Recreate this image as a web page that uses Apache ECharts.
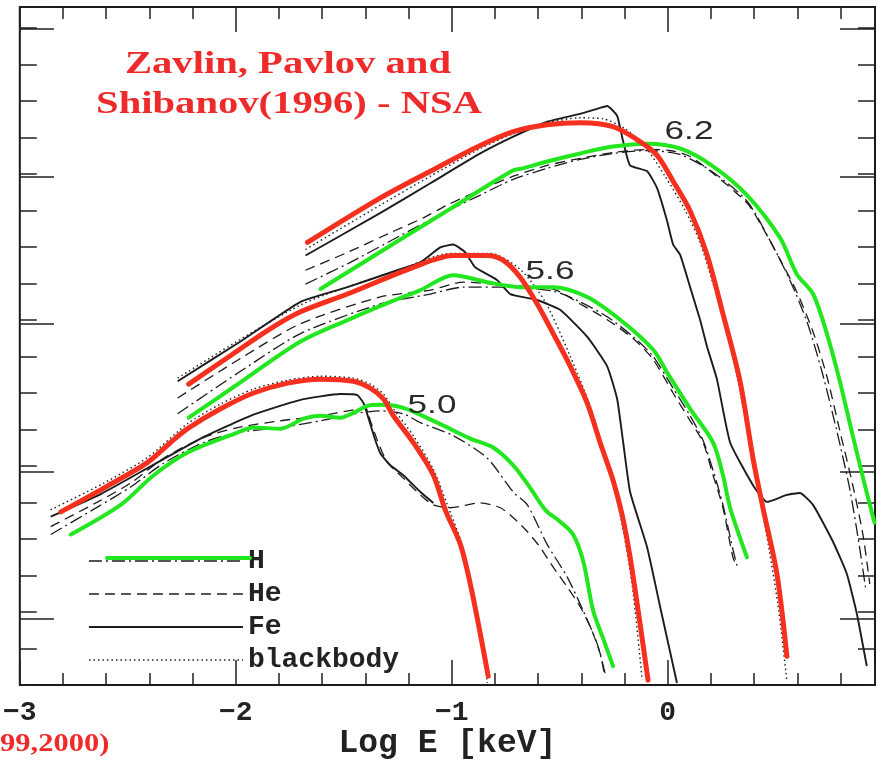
<!DOCTYPE html>
<html><head><meta charset="utf-8">
<script src="https://cdn.jsdelivr.net/npm/echarts@6/dist/echarts.min.js"></script>
<style>html,body{margin:0;padding:0;background:#fff}#c{width:878px;height:765px}</style>
</head><body><div id="c"></div>
<script>
// ---------- labels ----------
const xTickLabels = [-3, -2, -1, 0];
const legendNames = ['H', 'He', 'Fe', 'blackbody'];
const tempLabels = ['6.2', '5.6', '5.0'];

// ---------- log T = 6.2 ----------
const red62X = [-1.668,-1.330,-1.099,-0.868,-0.715,-0.558,-0.405,-0.253,-0.128,-0.049,0.025,0.104,0.182,0.256,0.335,0.395,0.441,0.506,0.552];
const red62Y = [2.531,2.836,3.019,3.195,3.290,3.337,3.351,3.324,3.222,3.127,2.951,2.747,2.449,2.042,1.581,1.053,0.714,0.259,-0.303];
const green62X = [-1.608,-1.238,-1.007,-0.715,-0.669,-0.558,-0.405,-0.253,-0.095,0.057,0.210,0.367,0.520,0.598,0.673,0.737,0.797,0.857,0.913,0.958];
const green62Y = [2.212,2.551,2.761,3.025,3.039,3.086,3.141,3.188,3.208,3.175,3.053,2.856,2.564,2.314,2.178,1.907,1.581,1.208,0.869,0.612];
const he62X = [-1.677,-1.483,-1.284,-1.131,-1.020,-0.868,-0.715,-0.558,-0.405,-0.253,-0.095,0.011,0.104,0.210,0.367,0.427,0.520,0.598,0.673,0.737,0.797,0.857,0.904,0.936];
const he62Y = [2.341,2.463,2.598,2.700,2.788,2.890,2.985,3.059,3.107,3.147,3.168,3.161,3.120,3.005,2.802,2.666,2.415,2.192,1.920,1.615,1.242,0.869,0.531,0.192];
const h62X = [-1.677,-1.469,-1.238,-1.020,-0.868,-0.715,-0.558,-0.405,-0.253,-0.095,0.057,0.210,0.367,0.474,0.566,0.645,0.714,0.783,0.844,0.890,0.917];
const h62Y = [2.246,2.395,2.578,2.747,2.856,2.964,3.039,3.100,3.141,3.161,3.134,3.012,2.815,2.544,2.273,1.988,1.649,1.242,0.836,0.429,0.158];
const fe62X = [-1.677,-1.330,-1.099,-0.868,-0.715,-0.558,-0.405,-0.313,-0.280,-0.234,-0.206,-0.174,-0.095,-0.049,-0.003,0.025,0.057,0.104,0.150,0.182,0.228,0.289,0.395,0.460,0.552,0.612,0.673,0.765,0.830,0.876,0.922];
const fe62Y = [2.442,2.734,2.937,3.141,3.256,3.358,3.412,3.453,3.466,3.398,3.222,3.059,3.019,2.903,2.680,2.517,2.449,2.225,2.002,1.819,1.595,1.161,0.869,0.754,0.802,0.815,0.734,0.483,0.259,-0.012,-0.371];
const bb62X = [-1.677,-1.330,-1.099,-0.868,-0.715,-0.558,-0.405,-0.299,-0.197,-0.105,-0.012,0.080,0.150,0.228,0.312,0.381,0.450,0.510,0.552];
const bb62Y = [2.483,2.788,2.985,3.175,3.276,3.351,3.385,3.378,3.310,3.188,2.985,2.754,2.531,2.158,1.683,1.141,0.598,0.056,-0.473];

// ---------- log T = 5.6 ----------
const red56X = [-2.218,-2.010,-1.839,-1.700,-1.483,-1.178,-0.993,-0.835,-0.761,-0.683,-0.604,-0.530,-0.451,-0.373,-0.313,-0.253,-0.211,-0.174,-0.128,-0.091];
const red56Y = [1.561,1.771,1.941,2.056,2.178,2.361,2.442,2.442,2.408,2.293,2.110,1.907,1.683,1.432,1.161,0.903,0.666,0.375,-0.080,-0.466];
const green56X = [-2.218,-2.010,-1.700,-1.469,-1.284,-1.145,-0.993,-0.835,-0.683,-0.530,-0.373,-0.220,-0.068,0.002,0.104,0.210,0.256,0.289,0.367];
const green56Y = [1.331,1.541,1.853,2.008,2.124,2.205,2.307,2.259,2.225,2.225,2.158,2.002,1.798,1.629,1.392,1.161,0.937,0.714,0.375];
const fe56X = [-2.269,-1.978,-1.700,-1.483,-1.252,-1.145,-1.053,-0.993,-0.937,-0.891,-0.789,-0.729,-0.604,-0.498,-0.373,-0.280,-0.234,-0.206,-0.174,-0.095,-0.035,0.043];
const fe56Y = [1.581,1.853,2.124,2.225,2.341,2.395,2.497,2.517,2.463,2.361,2.273,2.178,2.137,2.070,1.886,1.683,1.459,1.161,0.822,0.442,0.036,-0.486];
const he56X = [-2.269,-1.978,-1.700,-1.330,-1.099,-0.946,-0.761,-0.530,-0.405,-0.280,-0.160,-0.068,0.025,0.104,0.164,0.210,0.256,0.302,0.321];
const he56Y = [1.466,1.737,1.975,2.158,2.205,2.259,2.239,2.212,2.110,2.002,1.873,1.731,1.500,1.310,1.161,0.937,0.714,0.375,0.314];
const h56X = [-2.269,-1.978,-1.700,-1.330,-1.099,-0.946,-0.761,-0.530,-0.405,-0.280,-0.160,-0.068,0.025,0.104,0.164,0.210,0.256,0.302,0.325];
const h56Y = [1.358,1.649,1.907,2.110,2.178,2.225,2.225,2.198,2.124,2.022,1.886,1.751,1.534,1.344,1.175,0.971,0.734,0.429,0.293];
const bb56X = [-2.269,-1.700,-1.238,-1.007,-0.821,-0.683,-0.567,-0.451,-0.359,-0.290,-0.220,-0.165,-0.118];
const bb56Y = [1.602,2.103,2.347,2.456,2.456,2.347,2.124,1.751,1.412,1.073,0.666,0.192,-0.466];

// ---------- log T = 5.0 ----------
const red50X = [-2.810,-2.611,-2.408,-2.302,-2.223,-2.070,-1.918,-1.760,-1.608,-1.455,-1.377,-1.316,-1.270,-1.178,-1.085,-1.030,-0.960,-0.914,-0.868,-0.831];
const red50Y = [0.686,0.849,1.025,1.161,1.256,1.392,1.500,1.568,1.595,1.581,1.534,1.459,1.344,1.161,0.937,0.700,0.463,0.192,-0.147,-0.439];
const green50X = [-2.764,-2.533,-2.380,-2.223,-1.992,-1.918,-1.793,-1.686,-1.608,-1.515,-1.455,-1.390,-1.330,-1.224,-1.067,-0.914,-0.808,-0.715,-0.636,-0.567,-0.498,-0.438,-0.391,-0.345,-0.299,-0.253];
const green50Y = [0.531,0.734,0.937,1.093,1.229,1.263,1.256,1.324,1.344,1.331,1.364,1.412,1.419,1.398,1.297,1.188,1.127,1.005,0.849,0.700,0.619,0.531,0.347,0.008,-0.181,-0.371];
const he50X = [-2.857,-2.639,-2.487,-2.334,-2.149,-1.992,-1.793,-1.608,-1.455,-1.400,-1.377,-1.344,-1.298,-1.224,-1.145,-1.085,-1.007,-0.868,-0.775,-0.715,-0.650,-0.590,-0.530,-0.465,-0.405,-0.359,-0.313,-0.290];
const he50Y = [0.585,0.754,0.883,1.053,1.195,1.263,1.310,1.344,1.385,1.398,1.310,1.175,1.025,0.917,0.802,0.734,0.714,0.747,0.714,0.646,0.551,0.442,0.307,0.171,0.036,-0.100,-0.283,-0.453];
const h50X = [-2.857,-2.639,-2.487,-2.334,-2.149,-1.992,-1.793,-1.608,-1.455,-1.330,-1.224,-1.145,-0.993,-0.835,-0.715,-0.650,-0.558,-0.465,-0.391,-0.327,-0.290];
const h50Y = [0.531,0.720,0.856,1.019,1.161,1.229,1.263,1.310,1.358,1.378,1.358,1.297,1.208,1.053,0.822,0.734,0.463,0.239,0.008,-0.215,-0.419];
const fe50X = [-2.857,-2.625,-2.394,-2.163,-1.932,-1.700,-1.515,-1.437,-1.409,-1.386,-1.358,-1.330,-1.284,-1.224,-1.145,-1.085];
const fe50Y = [0.653,0.808,0.998,1.188,1.344,1.453,1.493,1.486,1.432,1.331,1.195,1.086,1.005,0.937,0.822,0.747];
const bb50X = [-2.857,-2.611,-2.408,-2.223,-2.070,-1.918,-1.760,-1.608,-1.455,-1.377,-1.316,-1.270,-1.178,-1.085,-1.020,-0.960,-0.914,-0.868,-0.835];
const bb50Y = [0.700,0.883,1.059,1.290,1.425,1.527,1.588,1.615,1.602,1.561,1.493,1.392,1.208,0.978,0.734,0.497,0.225,-0.114,-0.486];

// ---------- styling ----------
const BLACK = '#1c1c1c';
const GREEN = '#22e61e';
const RED = '#f5301e';
const TITLE_RED = '#ee2a2a';
const dash = {
  H: [13, 4, 2, 4],
  He: [10, 6],
  Fe: 'solid',
  blackbody: [1.5, 3]
};
const widths = { H: 1.3, He: 1.3, Fe: 1.9, blackbody: 1.4 };

function pts(xs, ys) { return xs.map((x, i) => [x, ys[i]]); }
function blackLine(name, xs, ys) {
  return {
    type: 'line', name, xAxisIndex: 0, yAxisIndex: 0, data: pts(xs, ys),
    symbol: 'none', smooth: name === 'Fe' ? 0.15 : 0.25, silent: true, z: 2,
    lineStyle: { color: BLACK, width: widths[name], type: dash[name] }, itemStyle: { color: BLACK }
  };
}
function colorLine(name, xs, ys, color, width, z) {
  return {
    type: 'line', name, xAxisIndex: 0, yAxisIndex: 0, data: pts(xs, ys),
    symbol: 'none', smooth: 0.3, silent: true, z,
    lineStyle: { color, width, cap: 'round', join: 'round' }, itemStyle: { color }
  };
}

const series = [
  blackLine('blackbody', bb62X, bb62Y), blackLine('blackbody', bb56X, bb56Y), blackLine('blackbody', bb50X, bb50Y),
  blackLine('He', he62X, he62Y), blackLine('He', he56X, he56Y), blackLine('He', he50X, he50Y),
  blackLine('H', h62X, h62Y), blackLine('H', h56X, h56Y), blackLine('H', h50X, h50Y),
  blackLine('Fe', fe62X, fe62Y), blackLine('Fe', fe56X, fe56Y), blackLine('Fe', fe50X, fe50Y),
  colorLine('H model', green62X, green62Y, GREEN, 4, 3),
  colorLine('H model', green56X, green56Y, GREEN, 4, 3),
  colorLine('H model', green50X, green50Y, GREEN, 4, 3),
  colorLine('fit', red62X, red62Y, RED, 5, 4),
  colorLine('fit', red56X, red56Y, RED, 5, 4),
  colorLine('fit', red50X, red50Y, RED, 5, 4)
];

const tickStyle = { color: '#222', width: 1.5 };
function xAx(pos, interval, len, extra) {
  return Object.assign({
    gridIndex: 0, type: 'value', position: pos, min: -3, max: 0.96, interval,
    axisLine: { show: false, onZero: false }, splitLine: { show: false },
    axisTick: { show: true, inside: true, length: len, lineStyle: tickStyle },
    axisLabel: { show: false }
  }, extra || {});
}
function yAx(grid, pos, min, max, interval, len) {
  return {
    gridIndex: grid, type: 'value', position: pos, min, max, interval,
    axisLine: { show: false, onZero: false }, splitLine: { show: false },
    axisTick: { show: true, inside: true, length: len, lineStyle: tickStyle },
    axisLabel: { show: false }
  };
}

const monoFont = 'Liberation Mono';
const option = {
  animation: false,
  backgroundColor: '#ffffff',
  grid: [
    { left: 19, top: 7, width: 856, height: 685, show: true, borderColor: '#1a1a1a', borderWidth: 2, backgroundColor: 'transparent' },
    { left: 19, top: 7, width: 856, height: 612, show: false }
  ],
  xAxis: [
    xAx('bottom', 1, 25, {
      axisLabel: {
        show: true, margin: 14, showMinLabel: true, showMaxLabel: true,
        fontFamily: monoFont, fontSize: 28, fontWeight: 'bold', color: '#222',
        formatter: v => {
          const r = Math.round(v * 1000) / 1000;
          if (!xTickLabels.includes(r)) return '';
          return r < 0 ? '\u2212' + Math.abs(r) : String(r);
        }
      },
      name: 'Log E [keV]', nameLocation: 'middle', nameGap: 42, nameMoveOverlap: false,
      nameTextStyle: { fontFamily: monoFont, fontSize: 33, fontWeight: 'bold', color: '#222' }
    }),
    xAx('bottom', 0.2, 12),
    xAx('top', 1, 25),
    xAx('top', 0.2, 12),
    { gridIndex: 1, type: 'value', min: -3, max: 0.96, show: false }
  ],
  yAxis: [
    yAx(0, 'left', -0.5, 4.144, 0.25, 17),
    yAx(0, 'right', -0.5, 4.144, 0.25, 17),
    yAx(1, 'left', 0, 4.149, 1, 35),
    yAx(1, 'right', 0, 4.149, 1, 35)
  ],
  legend: [
    {
      data: legendNames.map(n => ({ name: n, lineStyle: { type: dash[n], width: widths[n], color: BLACK } })),
      orient: 'vertical', left: 88, top: 547, padding: 0,
      itemWidth: 154, itemHeight: 14, itemGap: 5, selectedMode: false,
      itemStyle: { opacity: 0 },
      textStyle: { fontFamily: monoFont, fontSize: 28, fontWeight: 'bold', color: '#222', lineHeight: 28 }
    },
    {
      data: [{ name: 'H model', lineStyle: { type: 'solid', width: 4, color: GREEN } }],
      orient: 'vertical', left: 105, top: 551, padding: 0,
      itemWidth: 143, itemHeight: 14, selectedMode: false,
      itemStyle: { opacity: 0 },
      formatter: () => '',
      textStyle: { fontSize: 1 }
    }
  ],
  graphic: [
    { type: 'text', x: 288, y: 65, scaleX: 1.31, z: 10,
      style: { text: 'Zavlin, Pavlov and', font: 'bold 31px "Liberation Serif"', fill: TITLE_RED, align: 'center', verticalAlign: 'middle' } },
    { type: 'text', x: 289, y: 105, scaleX: 1.31, z: 10,
      style: { text: 'Shibanov(1996) - NSA', font: 'bold 31px "Liberation Serif"', fill: TITLE_RED, align: 'center', verticalAlign: 'middle' } },
    { type: 'text', x: 0, y: 745, scaleX: 1.22, z: 10,
      style: { text: '99,2000)', font: 'bold 25px "Liberation Serif"', fill: TITLE_RED, align: 'left', verticalAlign: 'middle' } },
    { type: 'text', x: 689, y: 132, scaleX: 1.35, z: 10,
      style: { text: tempLabels[0], font: '26px "Liberation Sans"', fill: '#2a2a2a', align: 'center', verticalAlign: 'middle' } },
    { type: 'text', x: 550, y: 272, scaleX: 1.35, z: 10,
      style: { text: tempLabels[1], font: '26px "Liberation Sans"', fill: '#2a2a2a', align: 'center', verticalAlign: 'middle' } },
    { type: 'text', x: 432, y: 406, scaleX: 1.35, z: 10,
      style: { text: tempLabels[2], font: '26px "Liberation Sans"', fill: '#2a2a2a', align: 'center', verticalAlign: 'middle' } }
  ],
  series
};

const chart = echarts.init(document.getElementById('c'), null, { renderer: 'canvas' });
chart.setOption(option);
</script>
</body></html>
